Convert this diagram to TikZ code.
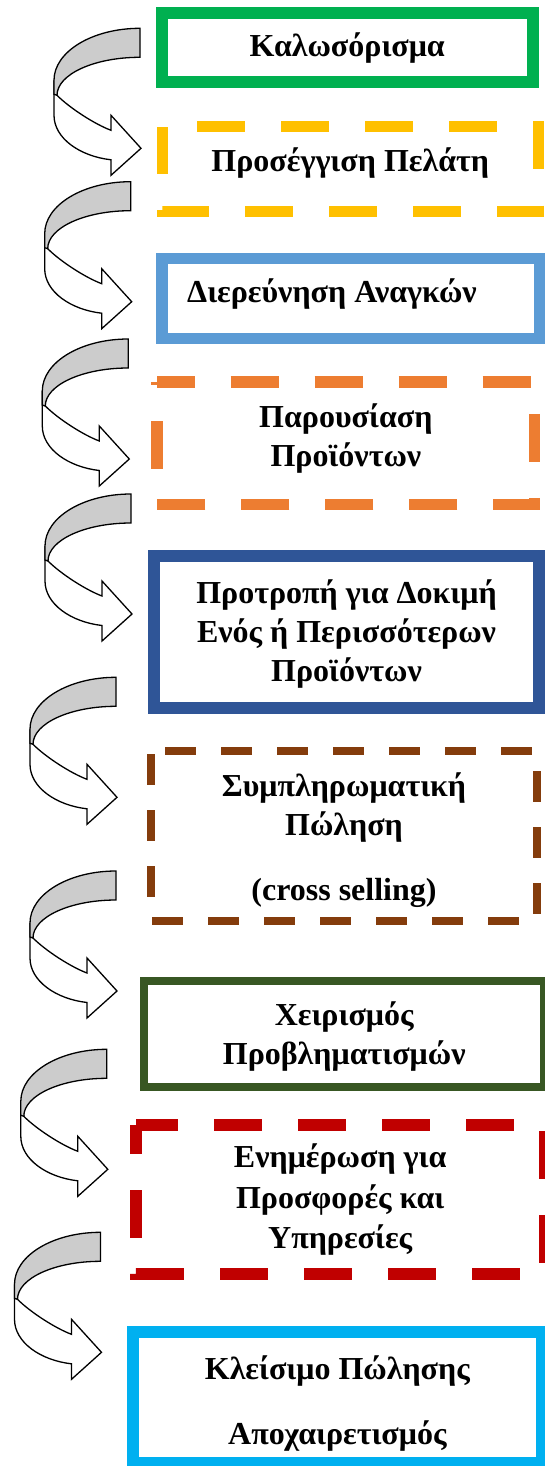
\documentclass[tikz,border=0pt]{standalone}
\usepackage{fontspec}
\setmainfont{Liberation Serif}
\usepackage{xcolor}
\definecolor{welcomegreen}{HTML}{00B050}
\definecolor{approachyellow}{HTML}{FFC000}
\definecolor{needsblue}{HTML}{5B9BD5}
\definecolor{presentorange}{HTML}{ED7D31}
\definecolor{trialblue}{HTML}{2F5597}
\definecolor{crossbrown}{HTML}{843C0C}
\definecolor{handlegreen}{HTML}{385723}
\definecolor{informred}{HTML}{C00000}
\definecolor{closecyan}{HTML}{00B0F0}
\definecolor{bandgrey}{HTML}{CCCCCC}

\begin{document}
\begin{tikzpicture}[
    x=1pt, y=-1pt,
    every node/.style={font=\bfseries\fontsize{32}{39}\selectfont},
    stage/.style={rectangle, inner sep=0pt, outer sep=0pt},
    solidframe/.style={stage, draw=#1},
    stagetext/.style={align=center, inner sep=0pt},
    longdash/.style={line width=11.5pt, dash pattern=on 48pt off 36pt},
    shortdash/.style={line width=7.5pt, dash pattern=on 31pt off 25pt},
    curvearrow/.pic={
        % white lower band with the head
        \draw[line width=1.3pt, fill=white]
            (-86,52) -- (-86,87) .. controls (-86,110) and (-60,128) .. (-29,131.5)
            -- (-29,147) -- (1,120) -- (-29,87) -- (-29,102)
            .. controls (-45,96) and (-70,80) .. (-83,67) -- cycle;
        % grey upper band
        \draw[line width=1.3pt, fill=bandgrey]
            (0,0) arc[start angle=270, end angle=180, x radius=86, y radius=52]
            -- (-86,66) -- (-83,67)
            arc[start angle=180, end angle=270, x radius=83, y radius=38] -- cycle;
    }
]
\useasboundingbox (0,0) rectangle (544,1466);

% Welcome
\node[solidframe=welcomegreen, line width=12pt, minimum width=370.7pt, minimum height=69pt]
    (welcome) at (347.3,47.8) {};
\node[stagetext] (welcometext) at (welcome.center) {Καλωσόρισμα};

% Approach (dashed)
\node[stage, minimum width=376.5pt, minimum height=84.5pt] (approach) at (350.25,169.25) {};
\draw[longdash, line width=11pt, draw=approachyellow, dash phase=49pt]
    (approach.north west) -- (approach.north east) -- (approach.south east) -- (approach.south west) -- cycle;
\node[stagetext] (approachtext) at ([yshift=6pt]approach.center) {Προσέγγιση Πελάτη};

% Needs
\node[solidframe=needsblue, line width=11.5pt, minimum width=377.5pt, minimum height=80pt]
    (needs) at (350.75,298.5) {};
\node[stagetext, anchor=west] (needstext) at ([xshift=25pt, yshift=4pt]needs.west) {Διερεύνηση Αναγκών};

% Presentation (dashed)
\node[stage, minimum width=377.7pt, minimum height=122.5pt] (present) at (345.85,443.25) {};
\draw[longdash, draw=presentorange, dash phase=10.5pt]
    (present.north west) -- (present.north east) -- (present.south east) -- (present.south west) -- cycle;
\node[stagetext] (presenttext) at ([yshift=5pt]present.center) {Παρουσίαση\\Προϊόντων};

% Trial
\node[solidframe=trialblue, line width=12pt, minimum width=384.4pt, minimum height=152pt]
    (trial) at (346.5,631.5) {};
\node[stagetext] (trialtext) at ([yshift=-3pt]trial.center)
    {Προτροπή για Δοκιμή\\Ενός ή Περισσότερων\\Προϊόντων};

% Cross selling (dashed)
\node[stage, minimum width=386pt, minimum height=170pt] (cross) at (344,836) {};
\draw[shortdash, draw=crossbrown, dash phase=41.6pt]
    (cross.north west) -- (cross.north east) -- (cross.south east) -- (cross.south west) -- cycle;
\node[stagetext] (crosstext) at ([yshift=-4pt]cross.center)
    {Συμπληρωματική\\Πώληση\\[26pt](cross selling)};

% Handling concerns
\node[solidframe=handlegreen, line width=8pt, minimum width=399.6pt, minimum height=106pt]
    (handle) at (344.2,1034) {};
\node[stagetext] (handletext) at ([yshift=-3pt]handle.center) {Χειρισμός\\Προβληματισμών};

% Offers (dashed)
\node[stage, minimum width=408.4pt, minimum height=149pt] (inform) at (340.2,1199.5) {};
\draw[longdash, draw=informred, dash phase=6pt]
    (inform.north west) -- (inform.north east) -- (inform.south east) -- (inform.south west) -- cycle;
\node[stagetext] (informtext) at (inform.center)
    {Ενημέρωση για\\[2pt]Προσφορές και\\[1pt]Υπηρεσίες};

% Closing
\node[solidframe=closecyan, line width=12pt, minimum width=408.7pt, minimum height=130.7pt]
    (close) at (337.35,1397.35) {};
\node[stagetext] (closetext) at ([yshift=-6pt]close.center)
    {Κλείσιμο Πώλησης\\[26pt]Αποχαιρετισμός};

% Curved arrows between the stages
\pic at (140,28.3) {curvearrow};
\pic at (130.7,181.7) {curvearrow};
\pic at (128.3,339) {curvearrow};
\pic at (131,494) {curvearrow};
\pic at (116,677.3) {curvearrow};
\pic at (116,871) {curvearrow};
\pic at (106.8,1049.3) {curvearrow};
\pic at (100.5,1232.3) {curvearrow};
\end{tikzpicture}
\end{document}
